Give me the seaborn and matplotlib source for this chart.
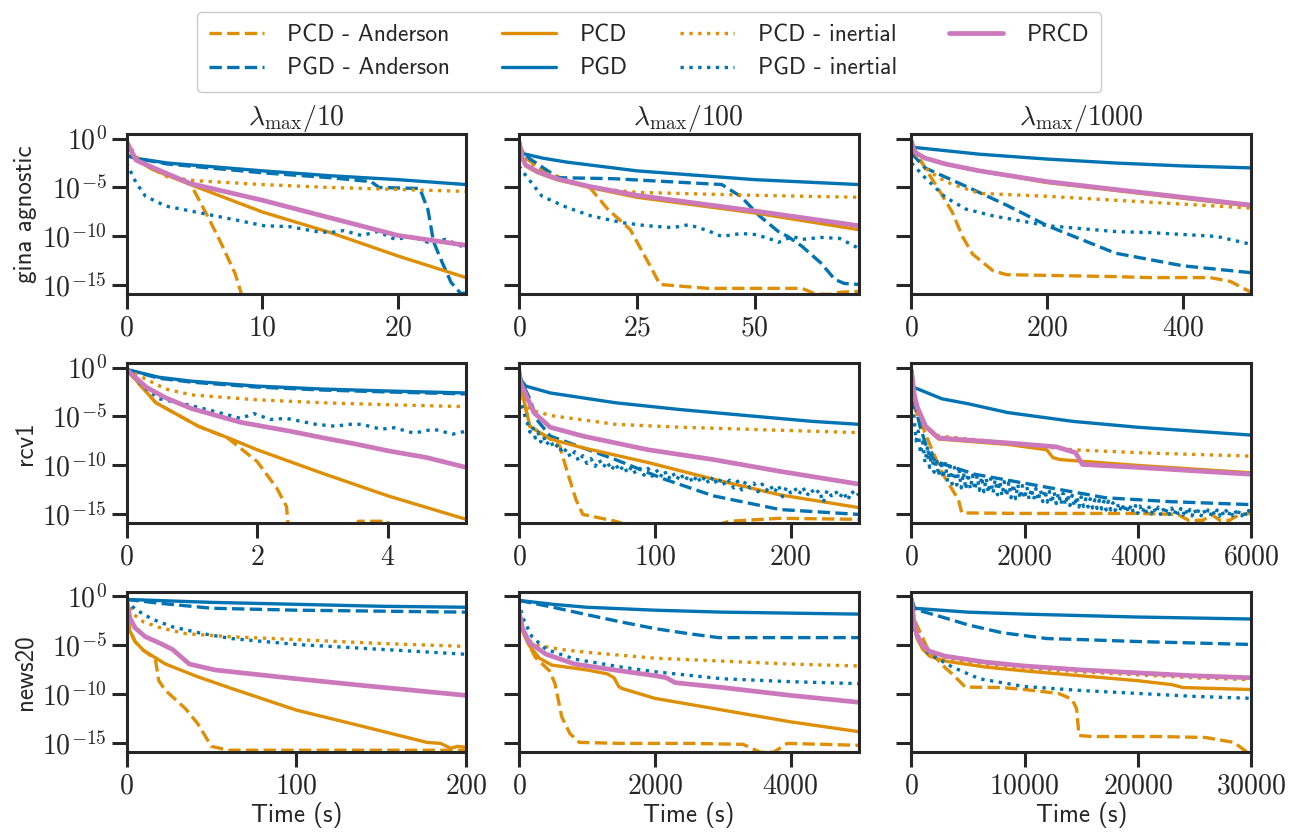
"""
Suboptimality vs time for PCD / PGD / PRCD solvers on three datasets
and three regularisation strengths (3x3 grid, log y axis).
"""

import numpy as np
import pandas as pd
import matplotlib
matplotlib.use("Agg")
import matplotlib.pyplot as plt
from matplotlib.ticker import FuncFormatter, NullLocator
import seaborn as sns

# ---------------------------------------------------------------------------
# data: (time [s], log10 suboptimality)
# ---------------------------------------------------------------------------
DATASETS = ["gina agnostic", "rcv1", "news20"]
LAMBDA_DIVS = [10, 100, 1000]
SOLVERS = ["PCD - Anderson", "PGD - Anderson", "PCD", "PGD",
           "PCD - inertial", "PGD - inertial", "PRCD"]

# gina agnostic, lambda_max / 10
G10_PCD_AND = [(0, -0.2), (0.7, -2.2), (2, -3.2), (4.7, -4.6), (6, -8.0), (7, -10.8),
               (8, -13.8), (8.6, -16.5)]
G10_PGD_AND = [(0, -1.7), (0.6, -2.0), (3, -2.6), (10, -3.5), (15, -4.0), (18, -4.4),
               (18.6, -5.0), (21.6, -5.1), (22.2, -7.3), (22.6, -10.5), (23.1, -12.2),
               (23.9, -14.7), (24.6, -15.8), (25, -15.8)]
G10_PCD = [(0, -0.3), (0.7, -2.2), (2, -3.2), (4.7, -4.7), (10, -7.5), (15, -9.6),
           (20, -12.0), (25, -14.2)]
G10_PGD = [(0, -1.7), (0.6, -2.0), (3, -2.5), (10, -3.3), (15, -3.8), (20, -4.2), (25, -4.7)]
G10_PCD_IN = [(0, -0.3), (1, -2.4), (3, -3.9), (5, -4.3), (10, -4.7), (15, -5.0),
              (20, -5.2), (25, -5.4)]
G10_PGD_IN = [(0, -2.5), (0.7, -4.5), (1.4, -5.9), (2.9, -6.9), (5.8, -7.7), (8, -8.3),
              (10.1, -8.9), (12, -9.0), (14, -9.5), (15, -9.6), (16, -9.4), (17.3, -9.9),
              (18.5, -9.5), (19.8, -10.3), (21, -10.0), (22.2, -10.6), (23.5, -10.3),
              (25, -11.2)]
G10_PRCD = [(0, -0.3), (0.7, -2.2), (2, -3.0), (4.7, -4.6), (10, -6.3), (15, -8.1),
            (20, -9.9), (25, -10.9)]

# gina agnostic, lambda_max / 100
G100_PCD_AND = [(0, -0.3), (1, -1.8), (5, -3.3), (10, -4.2), (15, -5.0), (18.8, -7.2),
                (23.6, -9.3), (27.8, -13.0), (29.9, -14.9), (40, -15.3), (60, -15.3),
                (63, -15.9), (66, -15.9), (68, -15.7), (72, -15.6)]
G100_PGD_AND = [(0, -0.3), (0.5, -1.5), (3, -2.3), (8.3, -4.0), (20, -4.1), (43, -4.7),
                (47, -5.9), (51, -7.9), (55, -9.5), (57, -10.0), (60, -11.0), (64, -12.7),
                (67, -14.4), (69, -14.8), (72, -14.9)]
G100_PCD = [(0, -0.3), (0.7, -2.0), (1.4, -2.8), (4, -3.5), (8, -4.2), (15, -5.0),
            (25, -6.0), (50, -7.6), (72, -9.3)]
G100_PGD = [(0, -0.3), (0.5, -1.5), (5, -2.0), (10, -2.4), (25, -3.3), (50, -4.2), (72, -4.7)]
G100_PCD_IN = [(0, -0.3), (1.4, -2.1), (5, -3.4), (10, -4.3), (14.6, -5.0), (25, -5.5),
               (50, -5.8), (72, -6.0)]
G100_PGD_IN = [(0, -2.8), (1, -3.5), (4.9, -5.9), (10, -7.0), (15.3, -7.9), (22, -8.6),
               (27, -8.9), (32.6, -9.1), (36, -8.8), (40, -9.4), (43, -10.0), (47, -9.7),
               (50, -9.8), (53, -10.2), (55, -10.6), (58, -10.0), (60, -10.3), (64, -10.1),
               (68, -10.2), (72, -11.2)]
G100_PRCD = [(0, -0.3), (0.7, -2.0), (1.4, -2.7), (4, -3.4), (8, -4.1), (15, -4.9),
             (25, -5.8), (50, -7.4), (72, -8.9)]

# gina agnostic, lambda_max / 1000
G1000_PCD_AND = [(0, -0.5), (10, -1.8), (20, -3.0), (40, -5.2), (60, -7.5), (75, -10.0),
                 (90, -11.8), (120, -13.5), (140, -13.9), (300, -14.1), (350, -14.2),
                 (440, -14.2), (470, -14.6), (500, -15.7)]
G1000_PGD_AND = [(0, -1.5), (20, -3.0), (84, -5.0), (140, -6.8), (200, -8.9), (300, -11.7),
                 (400, -13.0), (500, -13.7)]
G1000_PCD = [(0, -0.3), (5, -1.4), (20, -2.0), (50, -2.6), (100, -3.3), (200, -4.5),
             (300, -5.3), (400, -6.1), (500, -6.9)]
G1000_PGD = [(0, -0.3), (3, -0.9), (100, -1.6), (200, -2.1), (300, -2.5), (400, -2.8),
             (500, -3.0)]
G1000_PCD_IN = [(0, -0.8), (10, -2.0), (25, -3.3), (50, -4.4), (100, -5.6), (200, -5.9),
                (300, -6.3), (400, -6.7), (500, -7.1)]
G1000_PGD_IN = [(0, -2.5), (20, -4.0), (50, -6.0), (80, -7.2), (120, -7.9), (200, -8.9),
                (250, -9.2), (300, -9.5), (350, -9.6), (400, -9.8), (450, -10.0),
                (500, -10.8)]
G1000_PRCD = [(0, -0.3), (5, -1.4), (20, -2.0), (50, -2.6), (100, -3.3), (200, -4.4),
              (300, -5.2), (400, -6.0), (500, -6.8)]

# rcv1, lambda_max / 10
R10_PCD_AND = [(0, -0.2), (0.45, -3.6), (1.1, -6.0), (1.55, -7.2), (2.0, -9.6),
               (2.3, -12.3), (2.45, -14.2), (2.5, -18), (3.5, -18), (3.55, -15.7),
               (4.0, -15.7), (4.05, -18), (5.2, -18)]
R10_PGD_AND = [(0, -0.2), (0.5, -1.1), (1, -1.5), (2, -2.0), (3, -2.3), (4, -2.5), (5.2, -2.7)]
R10_PCD = [(0, -0.2), (0.45, -3.6), (1.1, -6.0), (1.6, -7.3), (2, -8.4), (2.5, -9.6),
           (3, -10.8), (4, -13.1), (5.2, -15.5)]
R10_PGD = [(0, -0.2), (0.5, -1.0), (1, -1.4), (2, -1.9), (3, -2.2), (4, -2.4), (5.2, -2.6)]
R10_PCD_IN = [(0, -0.2), (0.3, -1.2), (0.6, -2.2), (1, -2.8), (2, -3.3), (3, -3.6),
              (4, -3.8), (5.2, -4.0)]
R10_PGD_IN = [(0, -0.2), (0.25, -1.9), (0.5, -3.2), (0.9, -3.75), (1.3, -4.4), (1.75, -5.2),
              (1.95, -4.7), (2.2, -5.3), (2.45, -5.2), (2.9, -5.8), (3.2, -6.0), (3.4, -5.8),
              (3.6, -5.8), (3.9, -6.3), (4.1, -6.15), (4.4, -6.7), (4.7, -6.3), (5.0, -6.8),
              (5.2, -6.5)]
R10_PRCD = [(0, -0.2), (0.3, -2.0), (0.6, -3.1), (1, -4.2), (1.75, -5.6), (2.5, -6.5),
            (3.1, -7.3), (3.5, -7.8), (4, -8.5), (4.6, -9.2), (5.2, -10.2)]

# rcv1, lambda_max / 100
R100_PCD_AND = [(0, -0.3), (1, -1.8), (8, -6.0), (23, -7.3), (30, -8.0), (35, -10.4),
                (42, -13.5), (47, -15.0), (71, -15.7), (80, -16.1), (145, -16.1),
                (155, -15.7), (192, -15.4), (250, -15.5)]
R100_PGD_AND = [(0, -0.3), (2, -1.5), (8, -3.2), (13, -5.3), (23, -7.0), (71, -9.4),
                (107, -11.4), (143, -13.1), (192, -14.5), (250, -15.0)]
R100_PCD = [(0, -0.3), (1, -1.8), (8, -6.0), (23, -7.3), (47, -8.2), (95, -9.7),
            (143, -11.4), (192, -13.0), (250, -14.3)]
R100_PGD = [(0, -0.3), (1, -1.2), (5, -1.9), (23, -2.6), (71, -3.6), (119, -4.3),
            (167, -4.9), (216, -5.5), (250, -5.8)]
R100_PCD_IN = [(0, -0.5), (2, -2.2), (8, -4.3), (23, -4.9), (71, -5.8), (119, -6.1),
               (167, -6.3), (250, -6.65)]
R100_PGD_IN = [(0, -3.0), (2, -3.8), (4, -4.8), (6, -5.6), (8, -6.6), (10, -6.0), (12, -7.2),
               (14, -6.6), (16, -7.6), (18, -7.0), (20, -7.9), (23, -7.4), (26, -8.3),
               (29, -7.8), (32, -8.8), (35, -8.3), (38, -9.2), (41, -8.6), (44, -9.6),
               (47, -9.0), (50, -9.8), (53, -9.3), (56, -10.1), (59, -9.4), (62, -10.2),
               (65, -9.6), (68, -10.5), (71, -9.8), (74, -10.6), (77, -10.0), (80, -10.8),
               (83, -10.1), (86, -10.9), (89, -10.3), (92, -11.0), (95, -10.3), (98, -11.1),
               (101, -10.4), (104, -11.2), (107, -10.5), (110, -11.4), (113, -10.7),
               (116, -11.5), (119, -10.8), (122, -11.6), (125, -11.0), (128, -11.8),
               (131, -11.0), (134, -11.8), (137, -11.1), (140, -11.9), (143, -11.1),
               (146, -12.0), (149, -11.3), (152, -12.1), (155, -11.5), (158, -12.3),
               (161, -11.6), (164, -12.5), (167, -11.6), (170, -12.3), (173, -11.8),
               (176, -12.7), (179, -11.9), (182, -12.6), (185, -12.0), (188, -12.8),
               (191, -12.0), (194, -13.2), (197, -12.2), (200, -12.8), (203, -12.3),
               (206, -13.0), (209, -12.2), (212, -13.1), (215, -12.4), (218, -13.0),
               (221, -12.5), (224, -13.8), (227, -12.5), (230, -13.1), (233, -12.6),
               (236, -13.3), (239, -12.7), (242, -13.6), (245, -12.6), (248, -13.2),
               (250, -12.9)]
R100_PRCD = [(0, -0.3), (1, -1.5), (11, -4.6), (23, -6.1), (47, -7.0), (95, -8.4),
             (143, -9.4), (192, -10.6), (250, -11.9)]

# rcv1, lambda_max / 1000
R1000_PCD_AND = [(0, -2.0), (50, -4.0), (144, -5.3), (370, -8.5), (540, -10.75),
                 (830, -13.5), (890, -14.85), (2000, -14.9), (3000, -14.9), (4000, -14.9),
                 (4700, -15.0), (4900, -15.6), (5150, -15.6), (5300, -15.0), (5450, -15.6),
                 (5620, -15.6), (5800, -15.0), (6000, -14.9)]
R1000_PGD_AND = [(0, -1.5), (50, -3.5), (150, -6.0), (300, -8.7), (430, -9.6), (1120, -10.9),
                 (2270, -12.1), (3430, -13.3), (4580, -13.7), (6000, -14.0)]
R1000_PCD = [(0, -0.5), (50, -3.0), (100, -4.2), (250, -6.1), (480, -7.3), (1700, -7.85),
             (2390, -8.4), (2500, -9.2), (2620, -9.4), (4000, -10.0), (6000, -10.75)]
R1000_PGD = [(0, -0.3), (30, -2.0), (540, -3.2), (1000, -3.7), (1700, -4.6), (2850, -5.5),
             (4000, -6.1), (5000, -6.5), (6000, -6.9)]
R1000_PCD_IN = [(0, -0.5), (50, -3.0), (100, -4.2), (250, -6.0), (480, -7.0), (1700, -7.7),
                (2850, -8.4), (4000, -8.7), (6000, -9.05)]
R1000_PGD_IN = [
    (0, -3.0), (40, -4.6), (80, -7.5), (120, -6.5), (160, -8.8), (200, -7.6), (240, -9.7),
    (280, -8.2), (320, -10.2), (360, -8.7), (400, -10.7), (440, -9.3), (480, -11.1),
    (520, -9.5), (560, -11.3), (600, -9.8), (640, -11.7), (680, -10.1), (720, -11.9),
    (760, -10.2), (800, -12.0), (840, -10.4), (880, -12.3), (920, -10.7), (960, -12.45),
    (1000, -10.8), (1040, -12.4), (1080, -11.0), (1120, -12.5), (1160, -11.05),
    (1200, -12.55), (1240, -11.15), (1280, -12.7), (1320, -11.3), (1360, -12.8),
    (1400, -11.35), (1440, -12.85), (1480, -11.45), (1520, -13.0), (1560, -11.6),
    (1600, -13.1), (1640, -11.65), (1680, -13.15), (1720, -11.75), (1760, -13.3),
    (1800, -11.9), (1840, -13.4), (1880, -11.95), (1920, -13.4), (1960, -12.05),
    (2000, -13.4), (2040, -12.2), (2080, -13.45), (2120, -12.35), (2160, -13.5),
    (2200, -12.35), (2240, -13.6), (2280, -12.5), (2320, -13.7), (2360, -12.5),
    (2400, -13.75), (2440, -12.65), (2480, -13.85), (2520, -12.7), (2560, -13.9),
    (2600, -12.8), (2640, -14.0), (2680, -12.85), (2720, -14.05), (2760, -12.95),
    (2800, -14.1), (2840, -13.05), (2880, -14.2), (2920, -13.15), (2960, -14.25),
    (3000, -13.2), (3040, -14.2), (3080, -13.4), (3120, -14.25), (3160, -13.4),
    (3200, -14.35), (3240, -13.5), (3280, -14.4), (3320, -13.55), (3360, -14.45),
    (3400, -13.65), (3440, -14.55), (3480, -13.65), (3520, -14.55), (3560, -13.8),
    (3600, -14.6), (3640, -13.9), (3680, -14.7), (3720, -13.9), (3760, -14.75),
    (3800, -14.0), (3840, -14.8), (3880, -14.0), (3920, -14.8), (3960, -14.1),
    (4000, -14.9), (4040, -14.15), (4080, -14.85), (4120, -14.2), (4160, -14.9),
    (4200, -14.25), (4240, -14.95), (4280, -14.25), (4320, -14.9), (4360, -14.25),
    (4400, -15.0), (4440, -14.35), (4480, -15.0), (4520, -14.35), (4560, -15.0),
    (4600, -14.35), (4640, -15.05), (4680, -14.4), (4720, -15.1), (4760, -14.4),
    (4800, -15.05), (4840, -14.4), (4880, -15.1), (4920, -14.5), (4960, -15.15),
    (5000, -14.45), (5040, -15.1), (5080, -14.5), (5120, -15.15), (5160, -14.5),
    (5200, -15.1), (5240, -14.55), (5280, -15.15), (5320, -14.5), (5360, -15.15),
    (5400, -14.55), (5440, -15.2), (5480, -14.55), (5520, -15.15), (5560, -14.6),
    (5600, -15.2), (5640, -14.55), (5680, -15.15), (5720, -14.6), (5760, -15.2),
    (5800, -14.6), (5840, -15.15), (5880, -14.6), (5920, -15.2), (5960, -14.6),
    (6000, -14.9)]
R1000_PRCD = [(0, -0.3), (50, -2.8), (100, -4.0), (250, -6.0), (480, -7.2), (1700, -7.7),
              (2560, -8.1), (2900, -8.7), (3020, -9.9), (4000, -10.2), (6000, -10.9)]

# news20, lambda_max / 10
N10_PCD_AND = [(0, -0.3), (1, -2.5), (2, -3.5), (5, -4.6), (10, -5.5), (17, -6.4),
               (19, -8.6), (23, -9.6), (35, -11.5), (42, -13.0), (50, -15.3), (60, -15.7),
               (100, -15.7), (150, -15.7), (200, -15.7)]
N10_PGD_AND = [(0, -0.3), (20, -0.7), (50, -1.2), (100, -1.4), (150, -1.5), (200, -1.6)]
N10_PCD = [(0, -0.3), (1, -2.5), (2, -3.5), (5, -4.6), (10, -5.5), (23, -6.9), (42, -8.2),
           (62, -9.4), (100, -11.6), (140, -13.3), (177, -14.9), (185, -15.0),
           (191, -15.5), (195, -15.3), (200, -15.4)]
N10_PGD = [(0, -0.3), (50, -0.6), (100, -0.8), (150, -1.0), (200, -1.1)]
N10_PCD_IN = [(0, -0.3), (4, -1.8), (10, -2.6), (20, -3.2), (35, -3.8), (60, -4.1),
              (100, -4.4), (150, -4.8), (200, -5.1)]
N10_PGD_IN = [(0, -0.3), (5, -1.3), (15, -2.3), (27, -3.1), (45, -3.8), (62, -4.3),
              (100, -4.9), (140, -5.3), (170, -5.6), (200, -5.9)]
N10_PRCD = [(0, -0.3), (2, -2.2), (5, -3.2), (11, -4.1), (20, -4.8), (27, -5.4), (33, -6.3),
            (37, -6.9), (52, -7.5), (100, -8.4), (140, -9.1), (200, -10.1)]

# news20, lambda_max / 100
N100_PCD_AND = [(0, -2.0), (50, -3.5), (150, -5.0), (240, -6.2), (450, -7.6), (530, -8.9),
                (630, -12.3), (750, -14.0), (890, -14.9), (1500, -15.0), (2500, -15.0),
                (3300, -15.1), (3550, -15.9), (3750, -15.9), (3950, -15.0), (4500, -15.1),
                (5000, -15.2)]
N100_PGD_AND = [(0, -0.4), (500, -1.1), (960, -1.8), (1500, -2.6), (2020, -3.3),
                (2500, -3.8), (2940, -4.2), (5000, -4.2)]
N100_PCD = [(0, -2.0), (50, -3.5), (150, -5.0), (300, -6.3), (480, -7.0), (1000, -7.5),
            (1300, -7.9), (1400, -8.3), (1470, -9.2), (1520, -9.4), (2000, -10.4),
            (3000, -11.6), (4000, -12.8), (5000, -13.8)]
N100_PGD = [(0, -0.4), (500, -0.8), (1000, -1.1), (2000, -1.4), (3000, -1.6), (4000, -1.7),
            (5000, -1.8)]
N100_PCD_IN = [(0, -2.0), (50, -3.5), (150, -4.5), (300, -5.0), (600, -5.4), (1000, -5.7),
               (2000, -6.3), (3000, -6.6), (4000, -6.9), (5000, -7.1)]
N100_PGD_IN = [(0, -0.5), (50, -2.1), (190, -4.1), (400, -5.4), (820, -6.4), (1500, -7.2),
               (2020, -7.7), (2990, -8.4), (4000, -8.7), (5000, -8.9)]
N100_PRCD = [(0, -1.5), (50, -3.2), (150, -4.7), (400, -5.9), (820, -6.9), (1500, -7.6),
             (2020, -8.1), (2170, -8.3), (2300, -8.8), (3000, -9.3), (4000, -10.1),
             (5000, -10.8)]

# news20, lambda_max / 1000
N1000_PCD_AND = [(0, -0.8), (300, -2.5), (1500, -5.5), (3000, -7.3), (3600, -7.9),
                 (4760, -9.25), (8000, -9.3), (10000, -9.5), (13000, -9.9), (14200, -10.5),
                 (14600, -11.5), (14800, -14.2), (16000, -14.3), (22000, -14.3),
                 (26000, -14.4), (28500, -14.9), (30000, -16.2)]
N1000_PGD_AND = [(0, -0.2), (300, -1.3), (3000, -2.2), (5000, -2.9), (8000, -3.7),
                 (12000, -4.3), (15000, -4.4), (20000, -4.6), (30000, -4.9)]
N1000_PCD = [(0, -0.5), (200, -2.8), (500, -4.3), (1000, -5.4), (1600, -6.1), (3000, -6.6),
             (6500, -7.2), (10000, -7.6), (15000, -8.1), (20000, -8.6), (23000, -9.0),
             (24000, -9.3), (30000, -9.5)]
N1000_PGD = [(0, -0.2), (200, -1.2), (5000, -1.6), (10000, -1.8), (20000, -2.1), (30000, -2.3)]
N1000_PCD_IN = [(0, -0.5), (200, -2.7), (500, -4.2), (1000, -5.2), (1600, -5.8),
                (3000, -6.3), (6500, -6.9), (10000, -7.3), (15000, -7.7), (20000, -8.0),
                (25000, -8.3), (30000, -8.5)]
N1000_PGD_IN = [(0, -0.5), (300, -3.5), (1500, -5.8), (3600, -7.2), (6000, -8.4),
                (10000, -9.2), (15000, -9.6), (20000, -9.9), (25000, -10.2), (30000, -10.4)]
N1000_PRCD = [(0, -0.3), (200, -2.5), (500, -4.0), (1000, -5.0), (1600, -5.6), (3000, -6.1),
              (6500, -6.7), (10000, -7.1), (15000, -7.5), (20000, -7.8), (25000, -8.1),
              (30000, -8.3)]

# x range / ticks per panel (rows: datasets, cols: lambda divisors)
X_MAX = [[25, 72, 500], [5.2, 250, 6000], [200, 5000, 30000]]
X_TICKS = [
    [[0, 10, 20], [0, 25, 50], [0, 200, 400]],
    [[0, 2, 4], [0, 100, 200], [0, 2000, 4000, 6000]],
    [[0, 100, 200], [0, 2000, 4000], [0, 10000, 20000, 30000]],
]

CURVES = {
    (0, 0): [G10_PCD_AND, G10_PGD_AND, G10_PCD, G10_PGD, G10_PCD_IN, G10_PGD_IN, G10_PRCD],
    (0, 1): [G100_PCD_AND, G100_PGD_AND, G100_PCD, G100_PGD, G100_PCD_IN, G100_PGD_IN, G100_PRCD],
    (0, 2): [G1000_PCD_AND, G1000_PGD_AND, G1000_PCD, G1000_PGD, G1000_PCD_IN, G1000_PGD_IN,
             G1000_PRCD],
    (1, 0): [R10_PCD_AND, R10_PGD_AND, R10_PCD, R10_PGD, R10_PCD_IN, R10_PGD_IN, R10_PRCD],
    (1, 1): [R100_PCD_AND, R100_PGD_AND, R100_PCD, R100_PGD, R100_PCD_IN, R100_PGD_IN, R100_PRCD],
    (1, 2): [R1000_PCD_AND, R1000_PGD_AND, R1000_PCD, R1000_PGD, R1000_PCD_IN, R1000_PGD_IN,
             R1000_PRCD],
    (2, 0): [N10_PCD_AND, N10_PGD_AND, N10_PCD, N10_PGD, N10_PCD_IN, N10_PGD_IN, N10_PRCD],
    (2, 1): [N100_PCD_AND, N100_PGD_AND, N100_PCD, N100_PGD, N100_PCD_IN, N100_PGD_IN, N100_PRCD],
    (2, 2): [N1000_PCD_AND, N1000_PGD_AND, N1000_PCD, N1000_PGD, N1000_PCD_IN, N1000_PGD_IN,
             N1000_PRCD],
}

# ---------------------------------------------------------------------------
# style
# ---------------------------------------------------------------------------
sns.set_theme(style="ticks", context="notebook")
pal = sns.color_palette("colorblind")
BLUE, ORANGE, PINK = pal[0], pal[1], pal[4]

STYLE = {
    "PCD - Anderson": dict(color=ORANGE, ls="--", lw=2.4),
    "PGD - Anderson": dict(color=BLUE, ls="--", lw=2.4),
    "PCD":            dict(color=ORANGE, ls="-", lw=2.4),
    "PGD":            dict(color=BLUE, ls="-", lw=2.4),
    "PCD - inertial": dict(color=ORANGE, ls=":", lw=2.4),
    "PGD - inertial": dict(color=BLUE, ls=":", lw=2.4),
    "PRCD":           dict(color=PINK, ls="-", lw=3.4),
}

plt.rcParams.update({
    "mathtext.fontset": "cm",
    "axes.linewidth": 2.2,
    "axes.edgecolor": "#262626",
    "xtick.major.size": 11,
    "ytick.major.size": 11,
    "xtick.major.width": 2.2,
    "ytick.major.width": 2.2,
    "xtick.major.pad": 3,
    "ytick.major.pad": 3,
    "xtick.labelsize": 20,
    "ytick.labelsize": 20,
})
SANS = "cmss10"

# long-form table
rows = []
for (i, j), curves in CURVES.items():
    for solver, pts in zip(SOLVERS, curves):
        for t, e in pts:
            rows.append({"row": i, "col": j, "solver": solver, "time": t,
                         "subopt": 10.0 ** e})
df = pd.DataFrame(rows)

fig, axes = plt.subplots(3, 3, figsize=(12.91, 8.33), dpi=100, sharey=True)
fig.subplots_adjust(left=0.098, right=0.969, top=0.839, bottom=0.097,
                    wspace=0.156, hspace=0.43)

xfmt = FuncFormatter(lambda v, p: r"$%g$" % v)
yfmt = FuncFormatter(lambda v, p: r"$10^{%d}$" % round(np.log10(v)))

for i in range(3):
    for j in range(3):
        ax = axes[i, j]
        sub = df[(df["row"] == i) & (df["col"] == j)]
        for solver in SOLVERS:
            s = sub[sub["solver"] == solver]
            sns.lineplot(data=s, x="time", y="subopt", ax=ax, estimator=None,
                         sort=False, label=solver, legend=False, **STYLE[solver])
        if ax.get_legend() is not None:
            ax.get_legend().remove()
        ax.set_yscale("log")
        ax.set_ylim(10 ** -15.9, 10 ** 0.45)
        ax.set_yticks([1e0, 1e-5, 1e-10, 1e-15])
        ax.yaxis.set_minor_locator(NullLocator())
        ax.yaxis.set_major_formatter(yfmt)
        ax.set_xlim(0, X_MAX[i][j])
        ax.set_xticks(X_TICKS[i][j])
        ax.xaxis.set_major_formatter(xfmt)
        ax.set_xlabel("")
        ax.set_ylabel("")
        for sp in ax.spines.values():
            sp.set_visible(True)
        if i == 0:
            ax.set_title(r"$\lambda_{\mathrm{max}}/%d$" % LAMBDA_DIVS[j],
                         fontsize=20, pad=4)
        if i == 2:
            ax.set_xlabel("Time (s)", fontfamily=SANS, fontsize=18, labelpad=2)
        if j == 0:
            ax.set_ylabel(DATASETS[i], fontfamily=SANS, fontsize=18, labelpad=4)

handles, labels = axes[0, 0].get_legend_handles_labels()
fig.legend(handles, labels, loc="center", bbox_to_anchor=(0.503, 0.9376), ncol=4,
           prop={"family": SANS, "size": 17}, handlelength=2.3, handletextpad=1.0,
           columnspacing=2.2, labelspacing=0.5, frameon=True, fancybox=True,
           edgecolor="#cccccc", framealpha=1.0, borderpad=0.5)

fig.savefig("out.png", dpi=100)
